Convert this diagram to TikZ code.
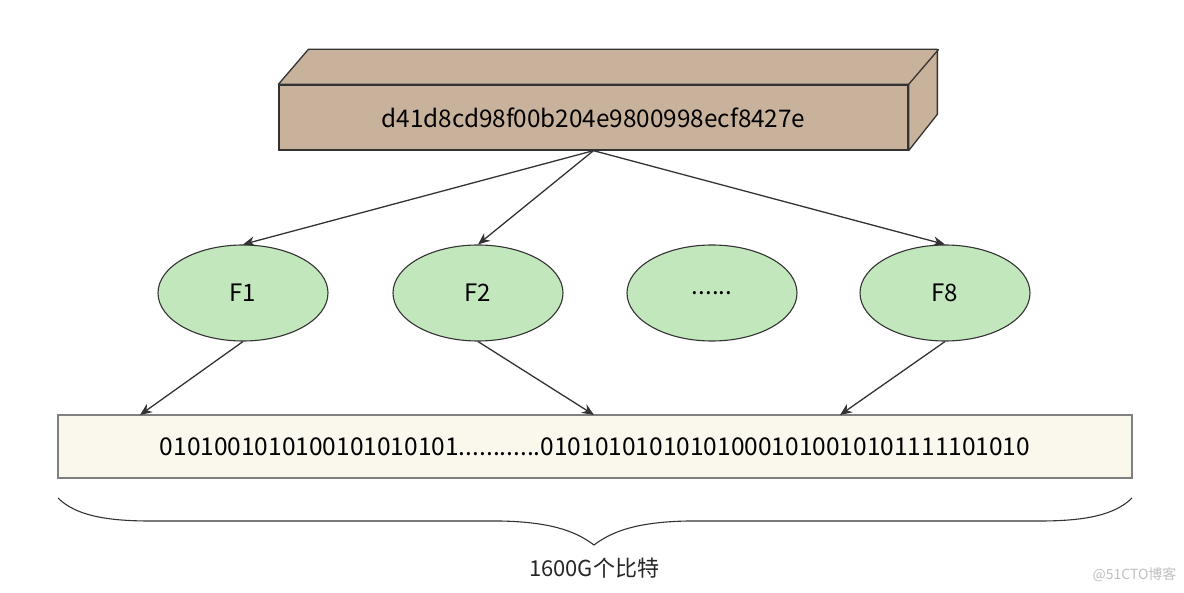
\documentclass[tikz,border=0pt]{standalone}
\usepackage{fontspec}
\setmainfont{Noto Sans CJK SC}
\usetikzlibrary{arrows.meta,shapes.geometric}
\definecolor{hashbrown}{HTML}{C9B29B}
\definecolor{hashgreen}{HTML}{C3E7BD}
\definecolor{bitcream}{HTML}{FAF8ED}
\definecolor{linegray}{HTML}{333333}
\tikzset{
  hashbox/.style={draw=linegray, fill=hashbrown, line width=1.3pt, minimum width=629pt, minimum height=65pt, inner sep=0pt, font=\fontsize{24.3}{28}\selectfont},
  hashfn/.style={ellipse, draw=linegray, fill=hashgreen, line width=1.1pt, minimum width=170pt, minimum height=96pt, inner sep=0pt, font=\fontsize{24}{28}\selectfont},
  bitbar/.style={draw=gray, fill=bitcream, line width=1.3pt, minimum width=1074pt, minimum height=63pt, inner sep=0pt, font=\fontsize{24.5}{28}\selectfont},
  link/.style={draw=linegray, line width=1.3pt, -{Stealth[length=12pt,width=10pt]}}
}
\begin{document}
\begin{tikzpicture}[x=1pt,y=-1pt]
  \useasboundingbox (0,0) rectangle (1184,593);
  % hash value as a 3d bar
  \node[hashbox] (hash) at (593.5,117.5) {d41d8cd98f00b204e9800998ecf8427e};
  \draw[draw=linegray, fill=hashbrown, line width=1.3pt, line join=round]
    (hash.north west) -- ++(30,-35) -- ++(629,0) -- ++(0,65) -- (hash.south east) -- (hash.north east) -- cycle;
  \draw[draw=linegray, line width=1.3pt] (hash.north east) -- ++(30,-35);
  % hash functions
  \node[hashfn] (f1) at (243,293) {F1};
  \node[hashfn] (f2) at (478,293) {F2};
  \node[hashfn] (fdots) at (712,293) {......};
  \node[hashfn] (f8) at (945,293) {F8};
  % bit array
  \node[bitbar] (bits) at (595,446.5) {0101001010100101010101............010101010101010001010010101111101010};
  \coordinate (b1) at (140,415);
  \coordinate (b2) at (594,415);
  \coordinate (b8) at (840,415);
  \draw[link] (hash.south) -- (f1.north);
  \draw[link] (hash.south) -- (f2.north);
  \draw[link] (hash.south) -- (f8.north);
  \draw[link] (f1.south) -- (b1);
  \draw[link] (f2.south) -- (b2);
  \draw[link] (f8.south) -- (b8);
  % brace under the bits
  \draw[draw=linegray, line width=1.1pt]
    (58,498) .. controls (75,515) and (105,521) .. (150,521) -- (500,521)
    .. controls (555,522) and (578,533) .. (594,545)
    .. controls (610,533) and (633,522) .. (688,521) -- (1040,521)
    .. controls (1085,521) and (1115,515) .. (1132,498);
  \node[font=\fontsize{22}{26}\selectfont, text=black!85] (size) at (594,568) {1600G个比特};
  \node[font=\fontsize{14}{16}\selectfont, text=black!25, anchor=east] (mark) at (1180,575) {@51CTO博客};
\end{tikzpicture}
\end{document}
